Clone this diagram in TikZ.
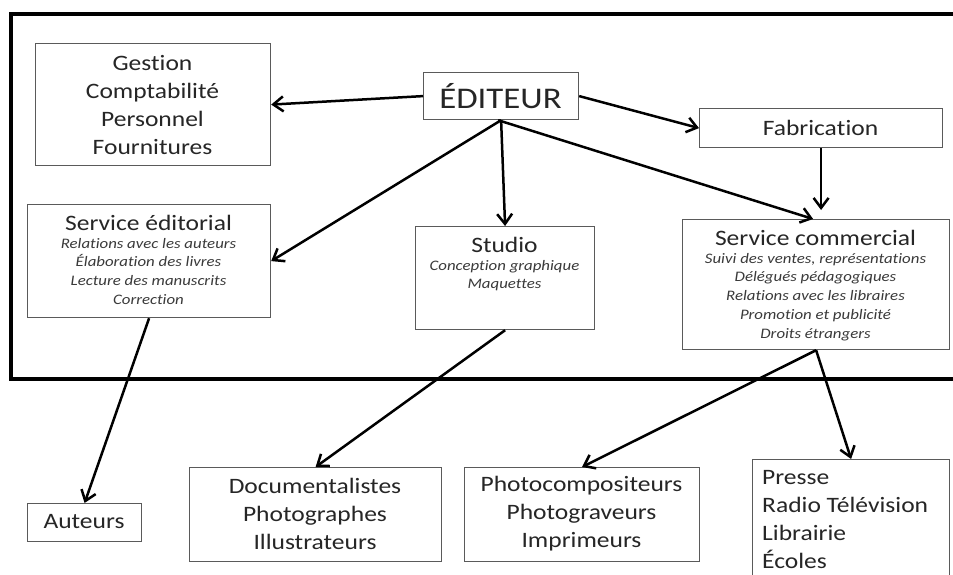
\documentclass[tikz,border=0pt]{standalone}
\usepackage{fontspec}
\setmainfont{Carlito}[FakeStretch=1.16, RawFeature={-liga;-clig;-calt;-dlig}]
\usetikzlibrary{arrows.meta}
\definecolor{txtc}{HTML}{262626}
\definecolor{itc}{HTML}{3A3A3A}
\definecolor{boxc}{HTML}{5A5A5A}
\tikzset{
  box/.style={draw=boxc, line width=1.2pt, fill=none, inner sep=0pt, anchor=north west},
  lbl/.style={text=txtc, font=\fontsize{22}{28}\selectfont, align=center, inner sep=0pt},
  itl/.style={text=itc, font=\fontsize{14.5}{18.7}\selectfont\itshape, align=center, inner sep=0pt},
  conn/.style={line width=2.5pt, -{Straight Barb[length=10pt,width=15pt,line width=2.5pt]}},
  frame/.style={line width=4pt, black}
}
\begin{document}
\begin{tikzpicture}[x=1pt,y=-1pt]
\useasboundingbox (0,0) rectangle (953,575);
\clip (0,0) rectangle (953,575);
\fill[white] (0,0) rectangle (953,575);
% big frame
\draw[frame] (980,14) -- (11,14) -- (11,378.5) -- (980,378.5);
% boxes
\node[box, minimum width=235, minimum height=122] (gest) at (35,43) {};
\node[box, minimum width=155, minimum height=47] (edit) at (423,72) {};
\node[box, minimum width=243, minimum height=39] (fab) at (699,108) {};
\node[box, minimum width=243, minimum height=113] (sered) at (27,204) {};
\node[box, minimum width=179, minimum height=103] (studio) at (415,226) {};
\node[box, minimum width=267, minimum height=130] (sercom) at (682,219) {};
\node[box, minimum width=114, minimum height=38] (aut) at (27,503) {};
\node[box, minimum width=252, minimum height=94] (docs) at (189,467) {};
\node[box, minimum width=235, minimum height=94] (photo) at (464,467) {};
\node[box, minimum width=197, minimum height=140] (presse) at (752,459) {};
% texts
\node[lbl] (tgest) at (152.5,105) {Gestion\\Comptabilité\\Personnel\\Fournitures};
\node[lbl, font=\fontsize{30}{36}\selectfont] (tedit) at (500.5,96) {ÉDITEUR};
\node[lbl] (tfab) at (820.5,128) {Fabrica\kern0pt tion};
\node[lbl] (tsered) at (148.5,223) {Service éditorial};
\node[itl, anchor=north] (isered) at (148.5,238) {Relations avec les auteurs\\Élaboration des livres\\Lecture des manuscrits\\Correction};
\node[lbl] (tstudio) at (504.5,245) {Studio};
\node[itl, anchor=north] (istudio) at (504.5,260) {Conception graphique\\Maquettes};
\node[lbl] (tsercom) at (815.5,238) {Service commercial};
\node[itl, anchor=north] (isercom) at (815.5,253) {Suivi des ventes, représentations\\Délégués pédagogiques\\Relations avec les libraires\\Promo\kern0pt tion et publicité\\Droits étrangers};
\node[lbl] (taut) at (84,522) {Auteurs};
\node[lbl] (tdocs) at (315,514) {Documentalistes\\Photographes\\Illustrateurs};
\node[lbl] (tphoto) at (581.5,514) {Photocompositeurs\\Photograveurs\\Imprimeurs};
\node[lbl, align=left, anchor=north west] (tpresse) at (762,470) {Presse\\Radio Télévision\\Librairie\\Écoles};
% connectors
\draw[conn] (edit.west) -- (gest.east);
\draw[conn] (edit.east) -- (fab.west);
\draw[conn] (edit.south) -- (sered.east);
\draw[conn] (edit.south) -- (studio.north);
\draw[conn] ([xshift=-3pt]edit.south) -- ([xshift=-3pt]sercom.north);
\draw[conn, shorten >=9pt] (fab.south) -- (fab.south |- sercom.north);
\draw[conn] (sered.south) -- (aut.north);
\draw[conn] (studio.south) -- (docs.north);
\draw[conn] (sercom.south) -- (photo.north);
\draw[conn] (sercom.south) -- (presse.north);
\end{tikzpicture}
\end{document}
